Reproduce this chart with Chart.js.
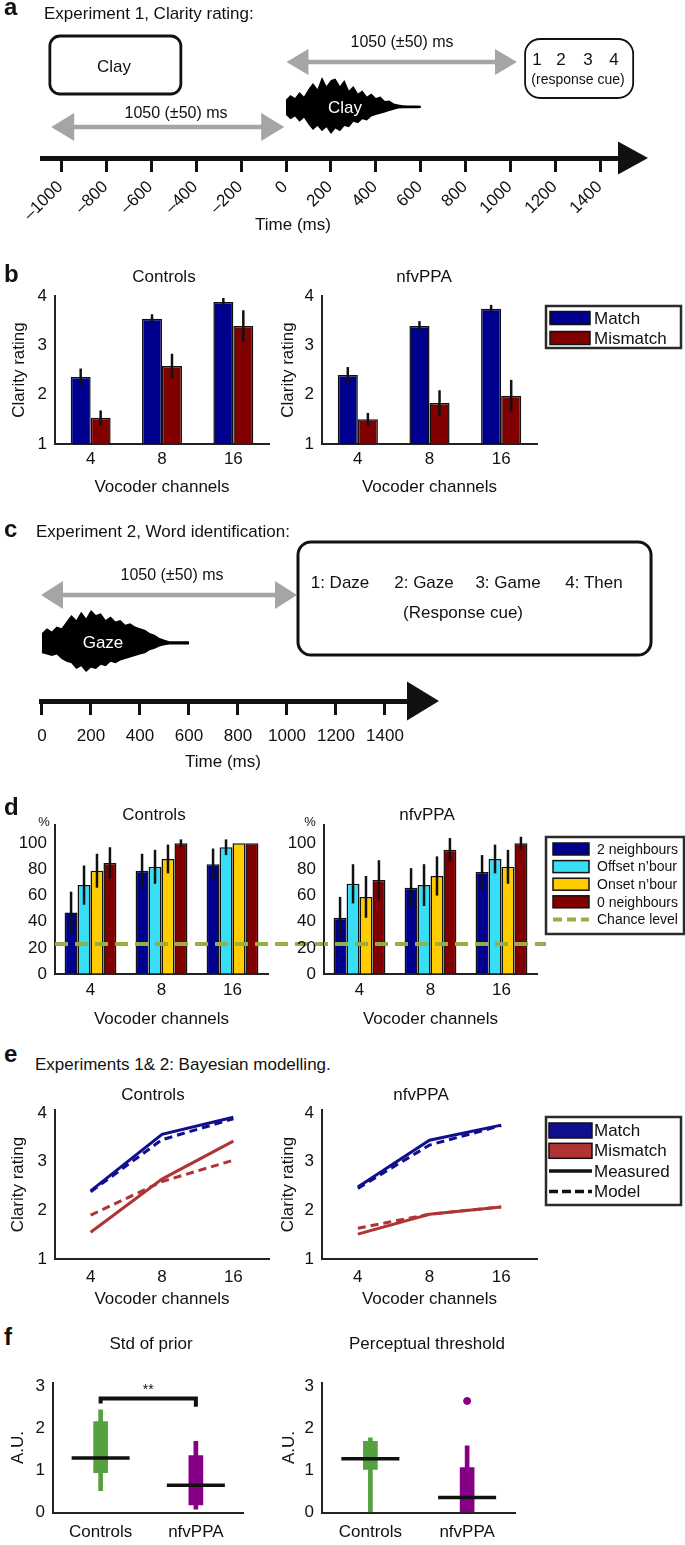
<!DOCTYPE html>
<html>
<head>
<meta charset="utf-8">
<script src="https://cdn.jsdelivr.net/npm/chart.js@4.4.1/dist/chart.umd.min.js"></script>
<style>
  html, body { margin: 0; padding: 0; background: #fff; }
  #fig { position: relative; width: 685px; height: 1545px; overflow: hidden; background: #fff; }
  #fig canvas { position: absolute; }
  .t { position: absolute; white-space: nowrap; line-height: 1; color: #111;
       font-family: 'Liberation Sans', Arial, sans-serif; }
</style>
</head>
<body>
<div id="fig"></div>
<script>
// ---------- data ----------
const channels = ['4', '8', '16'];
const clarityTicks = [1, 2, 3, 4];
const percentTicks = [0, 20, 40, 60, 80, 100];
const auTicks = [0, 1, 2, 3];
const timeTicksA = [-1000, -800, -600, -400, -200, 0, 200, 400, 600, 800, 1000, 1200, 1400];
const timeTicksC = [0, 200, 400, 600, 800, 1000, 1200, 1400];

// b: clarity rating, mean and s.e.m.
const clarityConditions = ['Match', 'Mismatch'];
const ctrlMatch = [2.36, 3.54, 3.88];
const ctrlMatchErr = [0.17, 0.09, 0.08];
const ctrlMismatch = [1.53, 2.58, 3.39];
const ctrlMismatchErr = [0.15, 0.25, 0.32];
const ppaMatch = [2.40, 3.39, 3.74];
const ppaMatchErr = [0.16, 0.10, 0.08];
const ppaMismatch = [1.50, 1.83, 1.98];
const ppaMismatchErr = [0.13, 0.26, 0.32];

// d: word identification (%)
const neighbourConds = ['2 neighbours', 'Offset n\u2019bour', 'Onset n\u2019bour', '0 neighbours'];
const ctrlTwoNb = [47, 79, 84];
const ctrlTwoNbErr = [16, 13, 12];
const ctrlOffsetNb = [68, 82, 97];
const ctrlOffsetNbErr = [15, 13, 6];
const ctrlOnsetNb = [79, 88, 100];
const ctrlOnsetNbErr = [13, 11, 0];
const ctrlZeroNb = [85, 100, 100];
const ctrlZeroNbErr = [12, 3, 0];
const ppaTwoNb = [43, 66, 78];
const ppaTwoNbErr = [16, 15, 13];
const ppaOffsetNb = [69, 68, 88];
const ppaOffsetNbErr = [15, 16, 11];
const ppaOnsetNb = [59, 75, 82];
const ppaOnsetNbErr = [16, 15, 13];
const ppaZeroNb = [72, 95, 100];
const ppaZeroNbErr = [15, 9, 5];
const chanceLevel = 23;

// e: measured vs model
const lineKinds = ['Measured', 'Model'];
const ctrlMatchMeas = [2.40, 3.56, 3.91];
const ctrlMatchModel = [2.38, 3.45, 3.88];
const ctrlMismatchMeas = [1.55, 2.64, 3.42];
const ctrlMismatchModel = [1.90, 2.59, 3.03];
const ppaMatchMeas = [2.48, 3.44, 3.75];
const ppaMatchModel = [2.45, 3.34, 3.74];
const ppaMismatchMeas = [1.51, 1.92, 2.07];
const ppaMismatchModel = [1.63, 1.92, 2.07];

// f: box plots
const boxGroups = ['Controls', 'nfvPPA'];
const priorLow = [0.52, 0.08];
const priorQ1 = [0.95, 0.18];
const priorMedian = [1.30, 0.65];
const priorQ3 = [2.17, 1.36];
const priorHigh = [2.45, 1.70];
const threshLow = [0, 0];
const threshQ1 = [1.03, 0];
const threshMedian = [1.28, 0.36];
const threshQ3 = [1.70, 1.07];
const threshHigh = [1.78, 1.59];
const threshOutlier = [null, 2.66];
const sigLevel = 2.72;
const sigLegEnds = [2.60, 2.52];
const sigLabel = '**';

// schematic waveform envelopes (relative amplitude every 20 ms, 0-600 ms)
const waveTimes = [0, 20, 40, 60, 80, 100, 120, 140, 160, 180, 200, 220, 240, 260, 280, 300,
  320, 340, 360, 380, 400, 420, 440, 460, 480, 500, 520, 540, 560, 580, 600];
const clayUpper = [0.25, 0.4, 0.3, 0.5, 0.35, 0.6, 0.8, 0.6, 1.0, 0.7, 0.9, 0.95, 0.7, 0.9, 0.55, 0.7,
  0.45, 0.55, 0.35, 0.45, 0.3, 0.35, 0.2, 0.22, 0.12, 0.08, 0.06, 0.05, 0.05, 0.05, 0.04];
const clayLower = [0.3, 0.45, 0.35, 0.55, 0.4, 0.65, 0.85, 0.7, 0.9, 0.75, 1.0, 0.8, 0.9, 0.7, 0.75, 0.55,
  0.6, 0.45, 0.5, 0.35, 0.3, 0.25, 0.2, 0.15, 0.1, 0.06, 0.05, 0.05, 0.05, 0.05, 0.04];
const gazeUpper = [0.3, 0.45, 0.35, 0.5, 0.45, 0.65, 0.85, 0.7, 0.95, 0.75, 1.0, 0.85, 0.9, 0.7, 0.8, 0.65,
  0.7, 0.55, 0.6, 0.5, 0.45, 0.4, 0.3, 0.25, 0.15, 0.1, 0.05, 0.05, 0.05, 0.05, 0.05];
const gazeLower = [0.35, 0.4, 0.45, 0.4, 0.55, 0.65, 0.7, 0.9, 0.8, 1.0, 0.85, 0.9, 0.75, 0.8, 0.65, 0.7,
  0.6, 0.55, 0.5, 0.45, 0.4, 0.35, 0.25, 0.2, 0.12, 0.08, 0.05, 0.05, 0.05, 0.05, 0.05];

// ---------- style ----------
const MATCH_BLUE = '#00008f';
const MISMATCH_RED = '#800000';
const NB_COLORS = ['#00008f', '#38def6', '#ffcc00', '#800000'];
const E_BLUE = '#10108c';
const E_RED = '#b03434';
const GROUP_COLORS = ['#55a03f', '#850085'];
const CHANCE_GREEN = '#98ad43';
const AXIS = '#222';
const FONT = "'Liberation Sans', Arial, sans-serif";

Chart.defaults.font.family = FONT;
Chart.defaults.font.size = 17;
Chart.defaults.color = '#111';
Chart.defaults.animation = false;
Chart.defaults.events = [];
Chart.defaults.plugins.legend.display = false;
Chart.defaults.plugins.tooltip.enabled = false;

const fig = document.getElementById('fig');

function chartAt(left, top, width, height, config) {
  const c = document.createElement('canvas');
  c.width = width;
  c.height = height;
  c.style.left = left + 'px';
  c.style.top = top + 'px';
  c.style.width = width + 'px';
  c.style.height = height + 'px';
  fig.appendChild(c);
  config.options = Object.assign({ responsive: false, devicePixelRatio: 1 }, config.options);
  return new Chart(c, config);
}

function addText(str, x, baseline, opts = {}) {
  const size = opts.size || 17;
  const d = document.createElement('div');
  d.className = 't';
  d.textContent = str;
  d.style.fontSize = size + 'px';
  d.style.fontWeight = opts.bold ? 'bold' : 'normal';
  d.style.left = x + 'px';
  d.style.top = (baseline - 0.847 * size) + 'px';
  if (opts.color) d.style.color = opts.color;
  if (opts.center) d.style.transform = 'translateX(-50%)';
  fig.appendChild(d);
}

// fixed-size axes so every plot area lands where the figure has it
function valueAxis(min, max, ticks, width, title, titlePad) {
  return {
    type: 'linear', min, max,
    afterBuildTicks: s => { s.ticks = ticks.map(v => ({ value: v })); },
    afterFit: s => { s.width = width; s.paddingTop = 0; s.paddingBottom = 0; },
    grid: { drawOnChartArea: false, drawTicks: false },
    border: { color: AXIS, width: 2 },
    ticks: { padding: 8, callback: v => String(v) },
    title: { display: !!title, text: title || '', padding: { top: titlePad || 0, bottom: 0 } },
  };
}

function channelAxis(height, labelPad, title, titlePad) {
  return {
    type: 'category', offset: true,
    afterFit: s => { s.height = height; s.paddingLeft = 0; s.paddingRight = 0; },
    grid: { drawOnChartArea: false, drawTicks: false },
    border: { color: AXIS, width: 2 },
    ticks: { padding: labelPad, autoSkip: false, maxRotation: 0 },
    title: { display: !!title, text: title || '', padding: { top: 0, bottom: titlePad || 0 } },
  };
}

// ---------- plugins ----------
const errorBars = {
  id: 'errorBars',
  afterDatasetsDraw(chart) {
    const { ctx, scales: { y } } = chart;
    ctx.save();
    ctx.strokeStyle = '#111';
    ctx.lineWidth = 2.5;
    chart.data.datasets.forEach((ds, di) => {
      if (!ds.errors) return;
      chart.getDatasetMeta(di).data.forEach((bar, i) => {
        const e = ds.errors[i];
        if (!e) return;
        const v = ds.data[i];
        ctx.beginPath();
        ctx.moveTo(bar.x, y.getPixelForValue(v - e));
        ctx.lineTo(bar.x, y.getPixelForValue(v + e));
        ctx.stroke();
      });
    });
    ctx.restore();
  },
};

function chanceLine(value, toX, phase) {
  return {
    id: 'chanceLine',
    afterDatasetsDraw(chart) {
      const { ctx, chartArea: area, scales: { y } } = chart;
      const py = y.getPixelForValue(value);
      ctx.save();
      ctx.strokeStyle = CHANCE_GREEN;
      ctx.lineWidth = 4;
      ctx.setLineDash([13, 7]);
      ctx.lineDashOffset = phase;
      ctx.beginPath();
      ctx.moveTo(area.left, py);
      ctx.lineTo(toX, py);
      ctx.stroke();
      ctx.restore();
    },
  };
}

function boxLegend(cfg) {
  return {
    id: 'boxLegend',
    afterDraw(chart) {
      const ctx = chart.ctx;
      ctx.save();
      ctx.fillStyle = '#fff';
      ctx.fillRect(cfg.x, cfg.y, cfg.w, cfg.h);
      ctx.lineWidth = 2.5;
      ctx.strokeStyle = '#2b2b2b';
      ctx.strokeRect(cfg.x, cfg.y, cfg.w, cfg.h);
      ctx.font = `${cfg.font}px ${FONT}`;
      ctx.textBaseline = 'middle';
      ctx.textAlign = 'left';
      cfg.items.forEach((it, i) => {
        const cy = cfg.y + cfg.first + i * cfg.step;
        if (it.fill) {
          ctx.fillStyle = it.fill;
          ctx.fillRect(cfg.sx, cy - cfg.sh / 2, cfg.sw, cfg.sh);
          ctx.lineWidth = 1.5;
          ctx.strokeStyle = '#111';
          ctx.strokeRect(cfg.sx, cy - cfg.sh / 2, cfg.sw, cfg.sh);
        } else {
          ctx.strokeStyle = it.stroke;
          ctx.lineWidth = it.width;
          ctx.setLineDash(it.dash || []);
          ctx.beginPath();
          ctx.moveTo(cfg.sx, cy);
          ctx.lineTo(cfg.sx + cfg.sw, cy);
          ctx.stroke();
          ctx.setLineDash([]);
        }
        ctx.fillStyle = '#111';
        ctx.fillText(it.label, cfg.tx, cy + 1);
      });
      ctx.restore();
    },
  };
}

function sigBracket(level, ends, label) {
  return {
    id: 'sigBracket',
    afterDatasetsDraw(chart) {
      const { ctx, scales: { x, y } } = chart;
      const x1 = x.getPixelForValue(0);
      const x2 = x.getPixelForValue(1);
      const yt = y.getPixelForValue(level);
      ctx.save();
      ctx.strokeStyle = '#111';
      ctx.lineWidth = 4;
      ctx.beginPath();
      ctx.moveTo(x1, y.getPixelForValue(ends[0]));
      ctx.lineTo(x1, yt);
      ctx.lineTo(x2, yt);
      ctx.lineTo(x2, y.getPixelForValue(ends[1]));
      ctx.stroke();
      ctx.fillStyle = '#111';
      ctx.font = `14px ${FONT}`;
      ctx.textAlign = 'center';
      ctx.fillText(label, (x1 + x2) / 2, yt - 4);
      ctx.restore();
    },
  };
}

// schematic helpers
function roundBox(ctx, x, y, w, h, r, lw) {
  ctx.beginPath();
  ctx.roundRect(x, y, w, h, r);
  ctx.lineWidth = lw;
  ctx.strokeStyle = '#111';
  ctx.stroke();
}

function grayArrow(ctx, x1, x2, y, len, half) {
  ctx.fillStyle = '#a5a5a5';
  ctx.strokeStyle = '#a5a5a5';
  ctx.lineWidth = 4.5;
  ctx.beginPath();
  ctx.moveTo(x1 + len - 2, y);
  ctx.lineTo(x2 - len + 2, y);
  ctx.stroke();
  ctx.beginPath();
  ctx.moveTo(x1, y);
  ctx.lineTo(x1 + len, y - half);
  ctx.lineTo(x1 + len, y + half);
  ctx.closePath();
  ctx.moveTo(x2, y);
  ctx.lineTo(x2 - len, y - half);
  ctx.lineTo(x2 - len, y + half);
  ctx.closePath();
  ctx.fill();
}

function axisHead(ctx, x, y, len, half) {
  ctx.fillStyle = '#111';
  ctx.beginPath();
  ctx.moveTo(x - 1, y - half);
  ctx.lineTo(x + len, y);
  ctx.lineTo(x - 1, y + half);
  ctx.closePath();
  ctx.fill();
}

function waveform(ctx, X, upper, lower, cy, upAmp, lowAmp) {
  ctx.beginPath();
  waveTimes.forEach((t, i) => {
    const px = X(t), py = cy - upper[i] * upAmp;
    if (i) ctx.lineTo(px, py); else ctx.moveTo(px, py);
  });
  for (let i = waveTimes.length - 1; i >= 0; i--) {
    ctx.lineTo(X(waveTimes[i]), cy + lower[i] * lowAmp);
  }
  ctx.closePath();
  ctx.fillStyle = '#000';
  ctx.fill();
}

const timeLabel = v => (v < 0 ? '\u2013' + Math.abs(v) : String(v));

function timeAxis(min, max, ticks, height, rotation, pad, offset) {
  return {
    type: 'linear', min, max,
    afterBuildTicks: s => { s.ticks = ticks.map(v => ({ value: v })); },
    afterFit: s => { s.height = height; s.paddingLeft = 0; s.paddingRight = 0; },
    grid: { drawOnChartArea: false, drawTicks: true, tickLength: 14, tickWidth: 3, tickColor: '#111' },
    border: { color: '#111', width: 5 },
    ticks: { minRotation: rotation, maxRotation: rotation, padding: pad, labelOffset: offset,
             autoSkip: false, callback: timeLabel },
  };
}

// ---------- a: experiment 1 timeline ----------
chartAt(0, 0, 685, 242, {
  type: 'scatter',
  data: { datasets: [] },
  options: {
    layout: { padding: { left: 42, right: 66, top: 20, bottom: 0 } },
    scales: {
      x: timeAxis(-1086, 1482, timeTicksA, 84, 45, 5, -1),
      y: { display: false, min: 0, max: 1 },
    },
  },
  plugins: [{
    id: 'schematicA',
    afterDraw(chart) {
      const { ctx, chartArea: area, scales: { x } } = chart;
      const X = t => x.getPixelForValue(t);
      ctx.save();
      axisHead(ctx, area.right, area.bottom, 29, 16.5);
      roundBox(ctx, X(-1051), 36, X(-468) - X(-1051), 58, 10, 2.8);
      roundBox(ctx, X(1064), 39, X(1545) - X(1064), 59, 15, 1.8);
      grayArrow(ctx, X(2), X(1028), 62, 22, 13);
      grayArrow(ctx, X(-1045), X(-8), 127, 23, 14);
      waveform(ctx, X, clayUpper, clayLower, 107, 30, 27);
      ctx.restore();
    },
  }],
});

// ---------- c: experiment 2 timeline ----------
chartAt(0, 540, 685, 235, {
  type: 'scatter',
  data: { datasets: [] },
  options: {
    layout: { padding: { left: 41, right: 277, top: 0, bottom: 0 } },
    scales: {
      x: timeAxis(-4, 1494, timeTicksC, 74, 0, 11, 0),
      y: { display: false, min: 0, max: 1 },
    },
  },
  plugins: [{
    id: 'schematicC',
    afterDraw(chart) {
      const { ctx, chartArea: area, scales: { x } } = chart;
      const X = t => x.getPixelForValue(t);
      ctx.save();
      axisHead(ctx, area.right, area.bottom, 31, 19.5);
      roundBox(ctx, X(1045), 2, X(2486) - X(1045), 113, 13, 3);
      grayArrow(ctx, X(-4), X(1041), 55, 22, 14);
      waveform(ctx, X, gazeUpper, gazeLower, 103, 33, 29);
      ctx.restore();
    },
  }],
});

// ---------- b: clarity bars ----------
function clarityBars(match, matchErr, mismatch, mismatchErr) {
  return {
    labels: channels,
    datasets: [
      { label: clarityConditions[0], data: match, errors: matchErr, backgroundColor: MATCH_BLUE },
      { label: clarityConditions[1], data: mismatch, errors: mismatchErr, backgroundColor: MISMATCH_RED },
    ],
  };
}
const clarityBarOpts = { categoryPercentage: 0.56, barPercentage: 1, borderColor: '#111', borderWidth: 1.5 };

chartAt(0, 286, 276, 214, {
  type: 'bar',
  data: clarityBars(ctrlMatch, ctrlMatchErr, ctrlMismatch, ctrlMismatchErr),
  options: {
    layout: { padding: { top: 10, right: 7, left: 0, bottom: 0 } },
    datasets: { bar: clarityBarOpts },
    scales: {
      x: channelAxis(56, 5.5, 'Vocoder channels', 2),
      y: valueAxis(1, 4, clarityTicks, 55, 'Clarity rating', 9.3),
    },
  },
  plugins: [errorBars],
});

chartAt(268, 286, 417, 214, {
  type: 'bar',
  data: clarityBars(ppaMatch, ppaMatchErr, ppaMismatch, ppaMismatchErr),
  options: {
    layout: { padding: { top: 10, right: 148, left: 0, bottom: 0 } },
    datasets: { bar: clarityBarOpts },
    scales: {
      x: channelAxis(56, 5.5, 'Vocoder channels', 2),
      y: valueAxis(1, 4, clarityTicks, 54, 'Clarity rating', 9.8),
    },
  },
  plugins: [errorBars, boxLegend({
    x: 278, y: 20, w: 135, h: 42, first: 12, step: 20, font: 17,
    sx: 282, sw: 40, sh: 13, tx: 326,
    items: clarityConditions.map((c, i) => ({ label: c, fill: [MATCH_BLUE, MISMATCH_RED][i] })),
  })],
});

// ---------- d: word identification bars ----------
function wordBars(series, errs) {
  return {
    labels: channels,
    datasets: series.map((s, i) => ({
      label: neighbourConds[i], data: s, errors: errs[i], backgroundColor: NB_COLORS[i],
    })),
  };
}
const wordBarOpts = { categoryPercentage: 0.73, barPercentage: 1, borderColor: '#111', borderWidth: 1.5 };

chartAt(0, 815, 330, 215, {
  type: 'bar',
  data: wordBars([ctrlTwoNb, ctrlOffsetNb, ctrlOnsetNb, ctrlZeroNb],
                 [ctrlTwoNbErr, ctrlOffsetNbErr, ctrlOnsetNbErr, ctrlZeroNbErr]),
  options: {
    layout: { padding: { top: 10, right: 62, left: 0, bottom: 0 } },
    datasets: { bar: wordBarOpts },
    scales: {
      x: channelAxis(56, 6.5, 'Vocoder channels', 0),
      y: valueAxis(0, 114, percentTicks, 55),
    },
  },
  plugins: [errorBars, chanceLine(chanceLevel, 324, 0)],
});

chartAt(268, 815, 417, 215, {
  type: 'bar',
  data: wordBars([ppaTwoNb, ppaOffsetNb, ppaOnsetNb, ppaZeroNb],
                 [ppaTwoNbErr, ppaOffsetNbErr, ppaOnsetNbErr, ppaZeroNbErr]),
  options: {
    layout: { padding: { top: 10, right: 148, left: 0, bottom: 0 } },
    datasets: { bar: wordBarOpts },
    scales: {
      x: channelAxis(56, 6.5, 'Vocoder channels', 0),
      y: valueAxis(0, 114, percentTicks, 56),
    },
  },
  plugins: [errorBars, chanceLine(chanceLevel, 278, 9), boxLegend({
    x: 278, y: 22, w: 138, h: 97, first: 12, step: 17.6, font: 14,
    sx: 285, sw: 36, sh: 12, tx: 329,
    items: neighbourConds.map((c, i) => ({ label: c, fill: NB_COLORS[i] }))
      .concat([{ label: 'Chance level', stroke: CHANCE_GREEN, width: 4, dash: [9, 5] }]),
  })],
});

// ---------- e: model fits ----------
function fitLines(matchMeas, matchModel, mismatchMeas, mismatchModel) {
  return {
    labels: channels,
    datasets: [
      { label: 'Match', data: matchMeas, borderColor: E_BLUE },
      { label: 'Match model', data: matchModel, borderColor: E_BLUE, borderDash: [8, 5] },
      { label: 'Mismatch', data: mismatchMeas, borderColor: E_RED },
      { label: 'Mismatch model', data: mismatchModel, borderColor: E_RED, borderDash: [8, 5] },
    ],
  };
}
const fitLineOpts = { borderWidth: 3, pointRadius: 0, tension: 0, fill: false };

chartAt(0, 1100, 276, 211, {
  type: 'line',
  data: fitLines(ctrlMatchMeas, ctrlMatchModel, ctrlMismatchMeas, ctrlMismatchModel),
  options: {
    layout: { padding: { top: 10, right: 7, left: 0, bottom: 0 } },
    datasets: { line: fitLineOpts },
    scales: {
      x: channelAxis(52, 8.5, 'Vocoder channels', 1),
      y: valueAxis(1, 4.06, clarityTicks, 55, 'Clarity rating', 8.3),
    },
  },
});

chartAt(268, 1100, 417, 211, {
  type: 'line',
  data: fitLines(ppaMatchMeas, ppaMatchModel, ppaMismatchMeas, ppaMismatchModel),
  options: {
    layout: { padding: { top: 10, right: 148, left: 0, bottom: 0 } },
    datasets: { line: fitLineOpts },
    scales: {
      x: channelAxis(52, 8.5, 'Vocoder channels', 1),
      y: valueAxis(1, 4.06, clarityTicks, 54, 'Clarity rating', 9.8),
    },
  },
  plugins: [boxLegend({
    x: 278, y: 17, w: 135, h: 88, first: 13.5, step: 20.3, font: 17,
    sx: 281, sw: 43, sh: 15, tx: 326,
    items: [
      { label: clarityConditions[0], fill: E_BLUE },
      { label: clarityConditions[1], fill: E_RED },
      { label: lineKinds[0], stroke: '#111', width: 3.5 },
      { label: lineKinds[1], stroke: '#111', width: 3.5, dash: [9, 4] },
    ],
  })],
});

// ---------- f: box plots ----------
function boxData(low, q1, med, q3, high, outliers) {
  const sets = [
    { type: 'bar', data: boxGroups.map((_, i) => [low[i], high[i]]), backgroundColor: GROUP_COLORS,
      barThickness: 4, grouped: false, order: 3 },
    { type: 'bar', data: boxGroups.map((_, i) => [q1[i], q3[i]]), backgroundColor: GROUP_COLORS,
      barThickness: 14, grouped: false, order: 2 },
    { type: 'line', data: med, showLine: false, pointStyle: 'line', pointRadius: 29,
      pointBorderWidth: 3.5, pointBorderColor: '#111', borderColor: '#111', order: 1 },
  ];
  if (outliers) {
    sets.push({ type: 'line', data: outliers, showLine: false, pointStyle: 'circle', pointRadius: 3.5,
      pointBackgroundColor: GROUP_COLORS[1], pointBorderColor: GROUP_COLORS[1], order: 0 });
  }
  return { labels: boxGroups, datasets: sets };
}

chartAt(0, 1350, 276, 195, {
  type: 'bar',
  data: boxData(priorLow, priorQ1, priorMedian, priorQ3, priorHigh),
  options: {
    layout: { padding: { top: 8, right: 7, left: 0, bottom: 0 } },
    scales: {
      x: channelAxis(25, 9.5),
      y: valueAxis(0, 3.1, auTicks, 53, 'A.U.', 8.3),
    },
  },
  plugins: [sigBracket(sigLevel, sigLegEnds, sigLabel)],
});

chartAt(268, 1350, 280, 195, {
  type: 'bar',
  data: boxData(threshLow, threshQ1, threshMedian, threshQ3, threshHigh, threshOutlier),
  options: {
    layout: { padding: { top: 8, right: 13, left: 0, bottom: 0 } },
    scales: {
      x: channelAxis(25, 9.5),
      y: valueAxis(0, 3.1, auTicks, 54, 'A.U.', 11.3),
    },
  },
});

// ---------- free text ----------
const LETTER = { size: 24, bold: true };
addText('a', 4, 15, LETTER);
addText('Experiment 1, Clarity rating:', 44, 19);
addText('Clay', 114, 72, { center: true });
addText('1050 (\u00b150) ms', 402, 48, { center: true, size: 16 });
addText('1050 (\u00b150) ms', 176, 119, { center: true, size: 16 });
addText('Clay', 345, 113, { center: true, color: '#fff' });
['1', '2', '3', '4'].forEach((s, i) => addText(s, [537, 561, 588, 614][i], 65, { center: true }));
addText('(response cue)', 578, 84, { center: true, size: 14 });
addText('Time (ms)', 293, 230, { center: true });

addText('b', 4, 282, LETTER);
addText('Controls', 164, 282, { center: true });
addText('nfvPPA', 424, 282, { center: true });

addText('c', 4, 537, LETTER);
addText('Experiment 2, Word identification:', 36, 537);
addText('1050 (\u00b150) ms', 172, 581, { center: true, size: 16 });
['1: Daze', '2: Gaze', '3: Game', '4: Then'].forEach((s, i) =>
  addText(s, [340, 424, 508, 594][i], 588, { center: true }));
addText('(Response cue)', 463, 618, { center: true });
addText('Gaze', 103, 648, { center: true, color: '#fff' });
addText('Time (ms)', 223, 767, { center: true });

addText('d', 4, 815, LETTER);
addText('Controls', 154, 820, { center: true });
addText('nfvPPA', 427, 820, { center: true });
addText('%', 44, 826, { center: true, size: 13 });
addText('%', 310, 826, { center: true, size: 13 });

addText('e', 4, 1062, LETTER);
addText('Experiments 1& 2: Bayesian modelling.', 35, 1070);
addText('Controls', 153, 1100, { center: true });
addText('nfvPPA', 421, 1100, { center: true });

addText('f', 4, 1345, LETTER);
addText('Std of prior', 151, 1349, { center: true });
addText('Perceptual threshold', 427, 1349, { center: true });
</script>
</body>
</html>
